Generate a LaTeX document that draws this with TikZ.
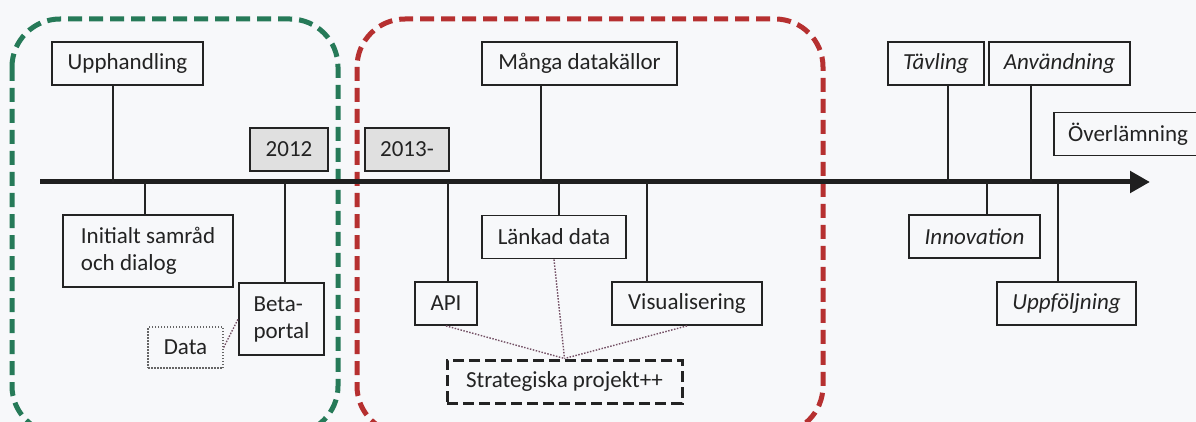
\documentclass[tikz,border=0pt]{standalone}
\usepackage{fontspec}
\setmainfont{Carlito}
\usetikzlibrary{arrows.meta}
\definecolor{ink}{RGB}{35,35,35}
\definecolor{grn}{RGB}{38,122,88}
\definecolor{rd}{RGB}{182,48,48}
\definecolor{yeargray}{RGB}{224,224,224}
\definecolor{dotline}{RGB}{115,80,100}
\definecolor{paper}{RGB}{247,248,250}

\begin{document}
\begin{tikzpicture}[x=1pt,y=-1pt,
  box/.style={draw=ink,line width=1.8pt,text=ink,font=\fontsize{23}{27}\selectfont,
    inner sep=0pt,minimum height=43pt,minimum width=#1,align=left},
  yearbox/.style={box=#1,fill=yeargray},
  ibox/.style={box=#1,font=\fontsize{23}{27}\selectfont\itshape},
  databox/.style={box=#1,draw=ink!70,line width=1.3pt,dash pattern=on 1.5pt off 1.5pt,minimum height=41pt},
  stratbox/.style={box=#1,line width=3pt,dash pattern=on 11pt off 5pt},
  region/.style={draw=#1,line width=5pt,rounded corners=48pt,dash pattern=on 14pt off 7pt},
  timeline/.style={draw=black!88,line width=5pt,-{Triangle[length=20pt,width=21pt]}},
  link/.style={draw=ink,line width=1.6pt},
  dotlink/.style={draw=dotline,line width=1.4pt,dash pattern=on 1.5pt off 1.5pt}]
\useasboundingbox (0,0) rectangle (1196,422);
\fill[paper] (0,0) rectangle (1196,422);
\clip (0,0) rectangle (1196,422);
\draw[region=grn] (12,19) rectangle (338,434);
\draw[region=rd] (357,19) rectangle (823,434);
\coordinate (tstart) at (40,182);
\coordinate (tend) at (1150,182);
\draw[timeline] (tstart) -- (tend);
\node[box=151pt] (upph) at (127.5,63.5) {Upphandling};
\node[yearbox=78pt] (y2012) at (289,149.5) {2012};
\node[yearbox=84pt] (y2013) at (407,149.5) {2013-};
\node[box=170pt,minimum height=72pt] (init) at (148,251) {Initialt samråd\\och dialog};
\node[box=85pt,minimum height=72pt] (beta) at (281.5,319) {Beta-\\portal};
\node[databox=75pt] (data) at (185.5,347.5) {Data};
\node[box=195pt] (manga) at (579.5,63.5) {Många datakällor};
\node[box=144pt] (lankad) at (554,237) {Länkad data};
\node[box=62pt] (api) at (446,303.5) {API};
\node[box=150pt] (vis) at (687,303.5) {Visualisering};
\node[stratbox=235pt] (strat) at (564.5,381.5) {Strategiska projekt++};
\node[ibox=96pt] (tavl) at (936,63.5) {Tävling};
\node[ibox=141pt] (anv) at (1059.5,63.5) {Användning};
\node[box=148pt] (over) at (1128,134) {Överlämning};
\node[ibox=131pt] (innov) at (974.5,236.5) {Innovation};
\node[ibox=139pt] (uppf) at (1066.5,303.5) {Uppföljning};
\coordinate (cupph) at (113,182);
\coordinate (cinit) at (145,182);
\coordinate (cbeta) at (285,182);
\coordinate (cmanga) at (541,182);
\coordinate (capi) at (448,182);
\coordinate (clankad) at (559,182);
\coordinate (cvis) at (647,182);
\coordinate (ctavl) at (948,182);
\coordinate (canv) at (1031,182);
\coordinate (cinnov) at (987,182);
\coordinate (cuppf) at (1058,182);
\draw[link] (cupph) -- (cupph |- upph.south);
\draw[link] (cinit) -- (cinit |- init.north);
\draw[link] (cbeta) -- (cbeta |- beta.north);
\draw[link] (cmanga) -- (cmanga |- manga.south);
\draw[link] (capi) -- (capi |- api.north);
\draw[link] (clankad) -- (clankad |- lankad.north);
\draw[link] (cvis) -- (cvis |- vis.north);
\draw[link] (ctavl) -- (ctavl |- tavl.south);
\draw[link] (canv) -- (canv |- anv.south);
\draw[link] (cinnov) -- (cinnov |- innov.north);
\draw[link] (cuppf) -- (cuppf |- uppf.north);
\draw[dotlink] (data.east) -- (beta.west);
\draw[dotlink] (api.south) -- (strat.north);
\draw[dotlink] (lankad.south) -- (strat.north);
\draw[dotlink] (vis.south) -- (strat.north);
\end{tikzpicture}
\end{document}
